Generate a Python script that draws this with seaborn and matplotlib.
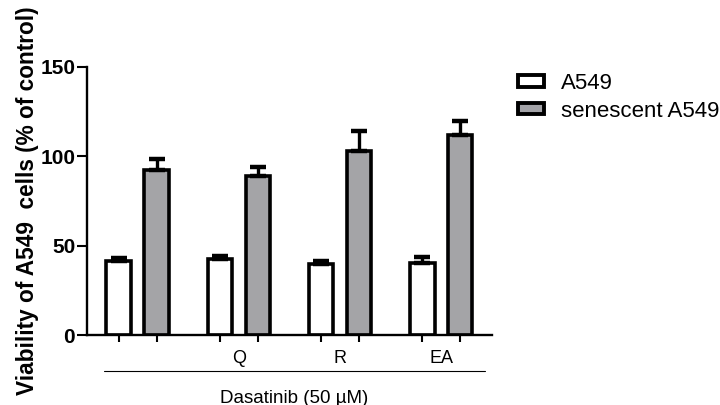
import matplotlib
matplotlib.use("Agg")
import matplotlib.pyplot as plt
import matplotlib.transforms as mtransforms
import pandas as pd
import seaborn as sns
from matplotlib.patches import Patch

TREATMENTS = ["", "Q", "R", "EA"]
CELL_TYPES = ["A549", "senescent A549"]
A549_MEAN = [41.5, 42.5, 40.0, 40.5]
A549_SEM = [1.5, 2.0, 1.5, 3.0]
SENESCENT_MEAN = [92.5, 89.0, 103.0, 112.0]
SENESCENT_SEM = [6.0, 5.0, 11.0, 8.0]
Y_TICKS = [0, 50, 100, 150]

PALETTE = ["#ffffff", "#a3a3a8"]

sns.set_style("ticks")
plt.rcParams["font.family"] = ["Liberation Sans", "DejaVu Sans"]
plt.rcParams.update({
    "text.color": "black",
    "axes.labelcolor": "black",
    "xtick.color": "black",
    "ytick.color": "black",
    "axes.edgecolor": "black",
})

data = pd.DataFrame(
    {
        "treatment": TREATMENTS * 2,
        "cell": [CELL_TYPES[0]] * 4 + [CELL_TYPES[1]] * 4,
        "viability": A549_MEAN + SENESCENT_MEAN,
        "sem": A549_SEM + SENESCENT_SEM,
    }
)

fig = plt.figure(figsize=(7.2, 4.05), dpi=100)
ax = fig.add_axes([0.1208, 0.1728, 0.5625, 0.6618])

sns.barplot(
    data=data,
    x="treatment",
    y="viability",
    hue="cell",
    order=TREATMENTS,
    hue_order=CELL_TYPES,
    palette=PALETTE,
    edgecolor="black",
    linewidth=2.6,
    width=0.75,
    gap=0.36,
    errorbar=None,
    legend=False,
    ax=ax,
)

# upward-only error bars on top of every bar
bar_centers = []
for container, errs in zip(ax.containers, [A549_SEM, SENESCENT_SEM]):
    for patch, err in zip(container.patches, errs):
        xc = patch.get_x() + patch.get_width() / 2
        top = patch.get_height()
        bar_centers.append(xc)
        ax.errorbar(
            xc, top, yerr=[[0], [err]], fmt="none", ecolor="black",
            elinewidth=2.4, capsize=6, capthick=3.2, zorder=1,
        )

ax.set_xlim(-0.5, 3.5)
ax.set_ylim(0, 150)
ax.set_yticks(Y_TICKS)
ax.set_yticklabels([str(t) for t in Y_TICKS], fontsize=15, fontweight="bold")
ax.set_xticks(sorted(bar_centers))
ax.set_xticklabels([""] * len(bar_centers))
ax.set_xticks(range(len(TREATMENTS)), minor=True)
ax.set_xticklabels(TREATMENTS, minor=True, fontsize=13)
ax.tick_params(axis="x", which="minor", length=0, pad=11)
ax.tick_params(axis="x", which="major", length=5, width=1.5)
ax.tick_params(axis="y", length=7, width=1.5, pad=1.5)
ax.set_xlabel("")
ax.set_ylabel("Viability of A549  cells (% of control)", fontsize=16.3,
              fontweight="bold", va="center")
ax.yaxis.set_label_coords(-0.148, 0.5)

sns.despine(ax=ax)
for side in ["left", "bottom"]:
    ax.spines[side].set_linewidth(1.7)

# bracket line and group label under the axis
trans = mtransforms.blended_transform_factory(ax.transData, ax.transAxes)
ax.plot([-0.335, 3.435], [-0.134, -0.134], color="black", lw=0.8,
        transform=trans, clip_on=False)
ax.text(1.55, -0.235, "Dasatinib (50 \u00b5M)", transform=trans, ha="center",
        va="center", fontsize=13.5)

handles = [
    Patch(facecolor=c, edgecolor="black", linewidth=2.8, label=l)
    for c, l in zip(PALETTE, CELL_TYPES)
]
fig.legend(
    handles=handles,
    loc="upper left",
    bbox_to_anchor=(0.72, 0.82),
    frameon=False,
    fontsize=16,
    handlelength=1.15,
    handleheight=0.4,
    handletextpad=0.75,
    labelspacing=0.3,
    borderaxespad=0,
    borderpad=0,
)

fig.savefig("out.png", dpi=100)
